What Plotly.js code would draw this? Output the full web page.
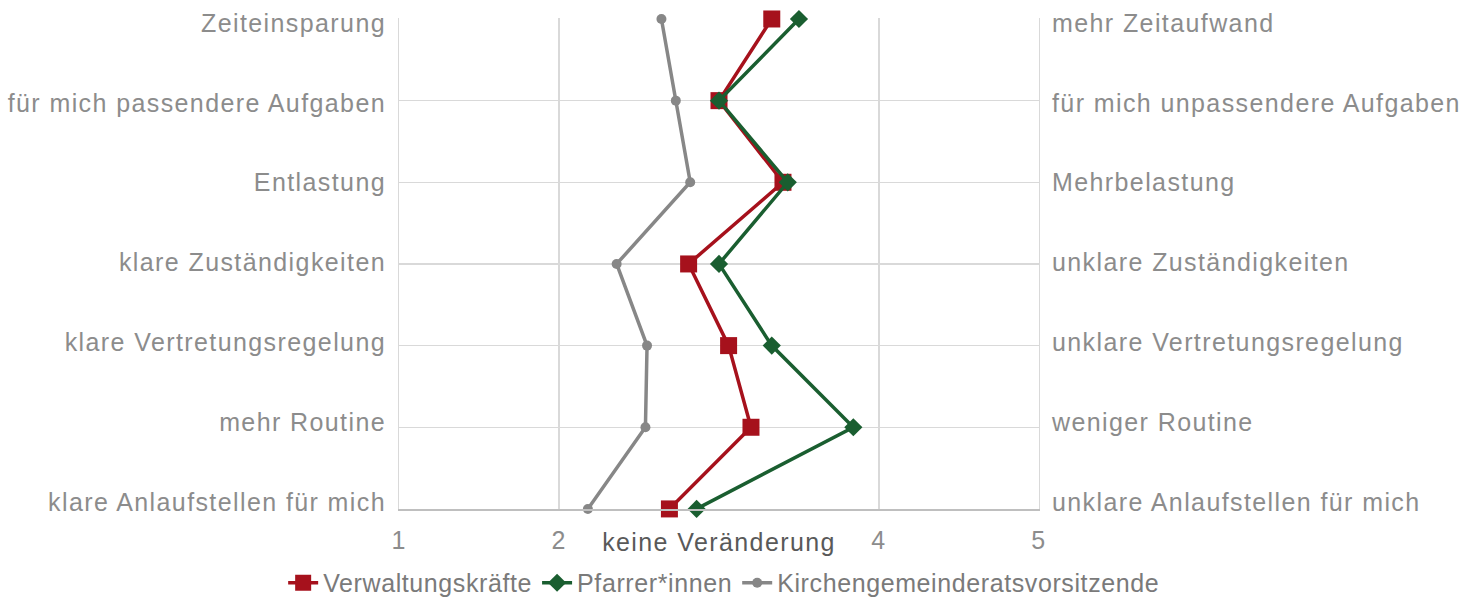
<!DOCTYPE html>
<html>
<head>
<meta charset="utf-8">
<script src="https://cdn.plot.ly/plotly-3.0.1.min.js"></script>
<style>
html,body{margin:0;padding:0;background:#fff;}
#chart{width:1478px;height:598px;}
text{letter-spacing:1.4px;}
text.legendtext{letter-spacing:0.6px;}
</style>
</head>
<body>
<div id="chart"></div>
<script>
const leftLabels = ["Zeiteinsparung","für mich passendere Aufgaben","Entlastung","klare Zuständigkeiten","klare Vertretungsregelung","mehr Routine","klare Anlaufstellen für mich"];
const rightLabels = ["mehr Zeitaufwand","für mich unpassendere Aufgaben","Mehrbelastung","unklare Zuständigkeiten","unklare Vertretungsregelung","weniger Routine","unklare Anlaufstellen für mich"];
const xTickVals = [1,2,4,5];
const xTickText = ["1","2","4","5"];
const xMidVal = [3];
const xMidText = ["keine Veränderung"];
const verwaltung = [3.33,3.00,3.40,2.81,3.06,3.20,2.69];
const pfarrer = [3.50,3.00,3.43,3.00,3.33,3.84,2.86];
const kgr = [2.64,2.73,2.82,2.36,2.55,2.54,2.18];

const idx = leftLabels.map((_, i) => i);
const font = "Liberation Sans, Arial, sans-serif";
const fs = 25;

const traces = [
  {name:"Verwaltungskräfte", x:verwaltung, y:idx, type:"scatter", mode:"lines+markers", cliponaxis:false,
   line:{color:"#a6111c", width:3.5}, marker:{symbol:"square", size:17, color:"#a6111c"}},
  {name:"Pfarrer*innen", x:pfarrer, y:idx, type:"scatter", mode:"lines+markers", cliponaxis:false,
   line:{color:"#1a5e30", width:3.5}, marker:{symbol:"diamond", size:14, color:"#1a5e30"}},
  {name:"Kirchengemeinderatsvorsitzende", x:kgr, y:idx, type:"scatter", mode:"lines+markers", cliponaxis:false,
   line:{color:"#878787", width:3.5}, marker:{symbol:"circle", size:10, color:"#878787"}}
];
traces.push({x:[null], y:[null], yaxis:"y2", showlegend:false, hoverinfo:"skip", type:"scatter", mode:"markers"});
traces.push({x:[null], y:[null], yaxis:"y3", showlegend:false, hoverinfo:"skip", type:"scatter", mode:"markers"});
traces.push({x:[null], y:[null], xaxis:"x2", showlegend:false, hoverinfo:"skip", type:"scatter", mode:"markers"});

const labelRange = [6.0876, -0.0626];
const layout = {
  width:1478, height:598,
  margin:{l:399, r:439, t:18, b:89, autoexpand:false},
  paper_bgcolor:"#fff", plot_bgcolor:"#fff",
  font:{family:font, size:fs, color:"#8c8c8c"},
  showlegend:true,
  legend:{orientation:"h", x:-0.181, xanchor:"left", y:-0.1507, yanchor:"middle",
          font:{family:font, size:fs, color:"#7a7a7a"}, itemwidth:30, tracegroupgap:0},
  xaxis:{range:[0.999,5.001], tickvals:xTickVals, ticktext:xTickText,
         showgrid:true, gridcolor:"#d9d9d9", gridwidth:1.3, zeroline:false,
         showline:true, linecolor:"#bfbfbf", linewidth:2, ticks:"", ticklabelstandoff:8,
         tickfont:{family:font, size:fs, color:"#8c8c8c"}, fixedrange:true},
  xaxis2:{overlaying:"x", side:"bottom", anchor:"y", range:[0.999,5.001], tickvals:xMidVal, ticktext:xMidText,
         showgrid:false, zeroline:false, showline:false, ticks:"", ticklabelstandoff:16,
         tickfont:{family:font, size:fs, color:"#595959"}, fixedrange:true},
  yaxis:{range:[6.001,-0.012], tickvals:idx, showticklabels:false, showgrid:true, gridcolor:"#d9d9d9", gridwidth:1.3,
         zeroline:false, ticks:"", fixedrange:true,
         showline:true, mirror:true, linecolor:"#d9d9d9", linewidth:1.3},
  yaxis2:{overlaying:"y", side:"left", range:labelRange, tickvals:idx, ticktext:leftLabels,
          showgrid:false, zeroline:false, ticks:"", ticklabelstandoff:12,
          tickfont:{family:font, size:fs, color:"#8c8c8c"}, fixedrange:true},
  yaxis3:{overlaying:"y", side:"right", range:labelRange, tickvals:idx, ticktext:rightLabels,
          showgrid:false, zeroline:false, ticks:"", ticklabelstandoff:12,
          tickfont:{family:font, size:fs, color:"#8c8c8c"}, fixedrange:true}
};

Plotly.newPlot("chart", traces, layout, {displayModeBar:false, staticPlot:true});
</script>
</body>
</html>
